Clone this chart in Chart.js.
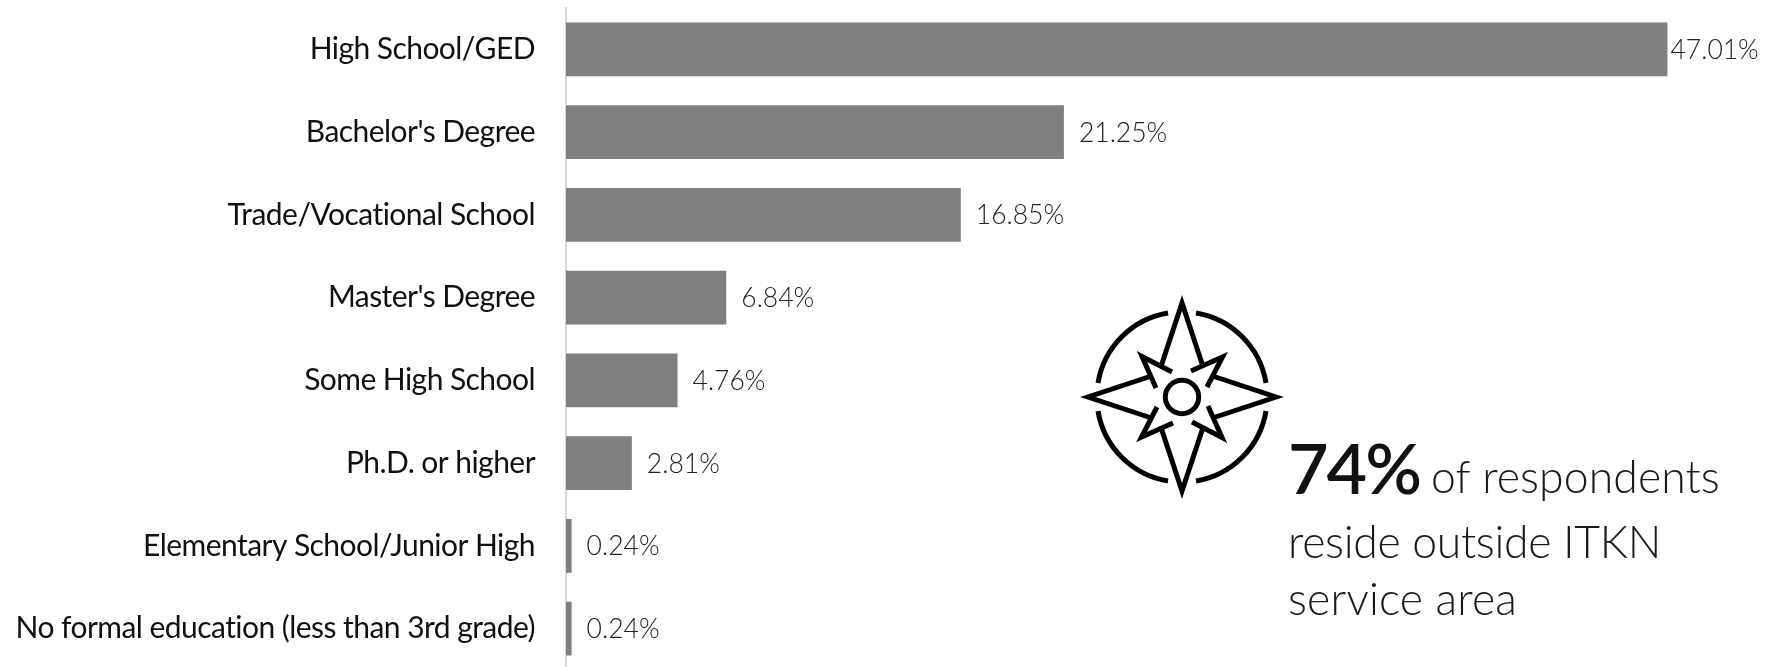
<!DOCTYPE html>
<html><head><meta charset="utf-8">
<script src="https://cdn.jsdelivr.net/npm/chart.js@4"></script>
<style>
html,body{margin:0;padding:0;background:#fff;width:1775px;height:667px;overflow:hidden}
#wrap{position:relative;width:1775px;height:670px}
canvas{display:block}
.t{position:absolute;font-family:Lato,sans-serif;font-weight:300;color:#1a1a1a;white-space:nowrap;line-height:1;font-size:44.5px}
.big{font-weight:600;font-size:70px;color:#111;letter-spacing:-2px}
svg{position:absolute;left:1072px;top:287px}
</style></head><body>
<div id="wrap">
<canvas id="c" width="1775" height="670" style="width:1775px;height:670px"></canvas>
<svg width="220" height="220" viewBox="-110 -110 220 220" fill="none" stroke="#000" stroke-width="5" stroke-miterlimit="12">
<g id="q"><path d="M-20.5,-32 L0,-94 L20.5,-32"/><path d="M-10,-25 L-40,-40.5 L-26,-9"/><path d="M14,-84 A85,85 0 0 1 84,-14"/></g>
<use href="#q" transform="rotate(90)"/><use href="#q" transform="rotate(180)"/><use href="#q" transform="rotate(270)"/>
<circle r="16.7"/>
</svg>
<div class="t big" style="left:1288px;top:432px">74%</div>
<div class="t" style="left:1431px;top:454px;letter-spacing:0.1px">of respondents</div>
<div class="t" style="left:1288px;top:519px;letter-spacing:-0.3px">reside outside ITKN</div>
<div class="t" style="left:1288px;top:576px;letter-spacing:0.2px">service area</div>
</div>
<script>
const categories = ["High School/GED","Bachelor's Degree","Trade/Vocational School","Master's Degree","Some High School","Ph.D. or higher","Elementary School/Junior High","No formal education (less than 3rd grade)"];
const values = [47.01,21.25,16.85,6.84,4.76,2.81,0.24,0.24];
const valueLabels = ["47.01%","21.25%","16.85%","6.84%","4.76%","2.81%","0.24%","0.24%"];
const spacing = {id:'sp',beforeDraw(ch){ch.ctx.letterSpacing='-0.55px';}};
const valueText = {id:'vt',afterDatasetsDraw(ch){
  const ctx=ch.ctx, bars=ch.getDatasetMeta(0).data;
  ctx.save();
  ctx.font='300 26.5px Lato, sans-serif';ctx.fillStyle='#222';ctx.textBaseline='middle';ctx.textAlign='left';ctx.letterSpacing='0px';
  bars.forEach((b,i)=>ctx.fillText(valueLabels[i],b.x+(i===0?3:15),b.y+1));
  ctx.restore();
}};
new Chart(document.getElementById('c'),{
  type:'bar',
  data:{labels:categories,datasets:[{data:values,backgroundColor:'#7f7f7f',barPercentage:1,categoryPercentage:0.65,borderWidth:0}]},
  options:{indexAxis:'y',responsive:false,animation:false,devicePixelRatio:1,
    layout:{padding:{top:8,left:0,right:0,bottom:0}},
    plugins:{legend:{display:false},tooltip:{enabled:false},title:{display:false}},
    scales:{
      x:{display:false,min:0,max:51.6},
      y:{afterFit(s){s.width=566;s.paddingTop=0;s.paddingBottom=0;},grid:{display:false},border:{display:true,color:'#d9d9d9',width:2},
         ticks:{color:'#111',padding:23,font:{family:'Lato, sans-serif',size:30,weight:'400'},autoSkip:false}}
    }},
  plugins:[spacing,valueText]
});
</script>
</body></html>
